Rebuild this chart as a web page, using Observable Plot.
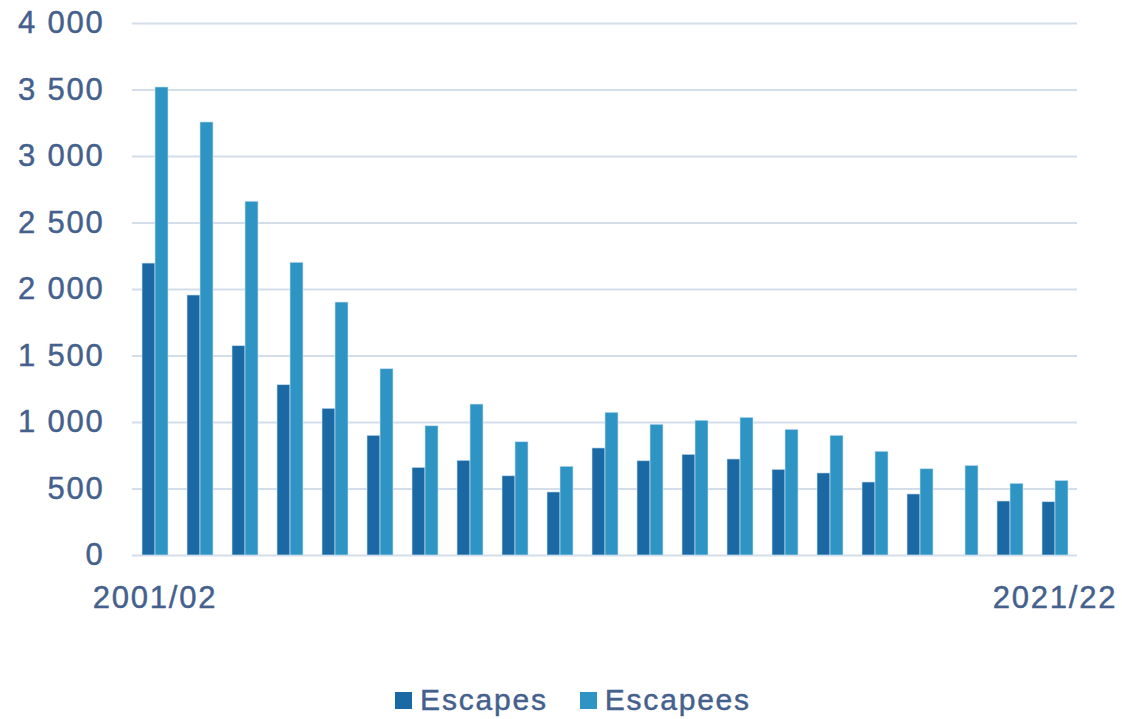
<!DOCTYPE html>
<html>
<head>
<meta charset="utf-8">
<script src="https://cdn.jsdelivr.net/npm/d3@7"></script>
<script src="https://cdn.jsdelivr.net/npm/@observablehq/plot@0.6"></script>
<style>
  html, body { margin: 0; padding: 0; background: #ffffff; }
  #wrap { position: relative; width: 1122px; height: 719px; overflow: hidden; }
  #chart svg text { stroke: #44608c; stroke-width: 0.45px; }
  #legend {
    position: absolute; left: 0; top: 680px; width: 1122px; height: 40px;
    display: flex; justify-content: center; align-items: center; gap: 32px;
    font-family: "Liberation Sans", Arial, sans-serif; font-size: 30px; letter-spacing: 1.8px;
    color: #44608c; -webkit-text-stroke: 0.45px #44608c; padding-left: 24px; box-sizing: border-box;
  }
  .item { display: flex; align-items: center; gap: 8px; }
  .sw { width: 17px; height: 17px; display: inline-block; }
</style>
</head>
<body>
<div id="wrap">
  <div id="chart"></div>
  <div id="legend"></div>
</div>
<script>
const years = ["2001/02","2002/03","2003/04","2004/05","2005/06","2006/07","2007/08","2008/09","2009/10","2010/11","2011/12","2012/13","2013/14","2014/15","2015/16","2016/17","2017/18","2018/19","2019/20","2020/21","2021/22"];
const seriesNames = ["Escapes", "Escapees"];
const escapes  = [2195, 1955, 1574, 1281, 1103, 900, 659, 712, 596, 474, 805, 709, 757, 722, 644, 617, 549, 459, null, 406, 401];
const escapees = [3519, 3256, 2660, 2201, 1902, 1401, 972, 1135, 852, 667, 1073, 983, 1013, 1035, 945, 900, 780, 649, 674, 539, 561];
const yTicks = [0, 500, 1000, 1500, 2000, 2500, 3000, 3500, 4000];
const xTickLabels = ["2001/02", "2021/22"];
const colors = ["#1a69a4", "#2e94c3"];

const data = [];
years.forEach((yr, i) => {
  if (escapes[i] != null) data.push({year: yr, series: "Escapes", value: escapes[i]});
  if (escapees[i] != null) data.push({year: yr, series: "Escapees", value: escapees[i]});
});

const fmt = d => d3.format(",")(d).replace(/,/g, " ");

const chart = Plot.plot({
  width: 1122,
  height: 660,
  marginTop: 23,
  marginBottom: 105,
  marginLeft: 130,
  marginRight: 44,
  style: {fontFamily: "'Liberation Sans', Arial, sans-serif", color: "#44608c", background: "#ffffff", letterSpacing: "1.8px"},
  fx: {domain: years, paddingInner: 0, paddingOuter: 0, label: null},
  x: {domain: seriesNames, paddingInner: 0, paddingOuter: 0.72, axis: null},
  y: {domain: [0, 4000], label: null},
  color: {domain: seriesNames, range: colors},
  marks: [
    Plot.gridY(yTicks, {stroke: "#d4deea", strokeOpacity: 1, strokeWidth: 2}),
    Plot.axisY(yTicks, {tickSize: 0, tickPadding: 28, fontSize: 31, tickFormat: fmt, fill: "#44608c", label: null}),
    Plot.barY(data, {fx: "year", x: "series", y: "value", fill: "series", stroke: "#cfe4f1", strokeWidth: 0.8, strokeOpacity: 0.8}),
    Plot.axisFx({ticks: xTickLabels, anchor: "bottom", tickSize: 0, tickPadding: 30, fontSize: 31, fill: "#44608c", label: null})
  ]
});
document.getElementById("chart").appendChild(chart);

const legend = document.getElementById("legend");
seriesNames.forEach((s, i) => {
  const item = document.createElement("div");
  item.className = "item";
  const sw = document.createElement("span");
  sw.className = "sw";
  sw.style.background = colors[i];
  const t = document.createElement("span");
  t.textContent = s;
  item.appendChild(sw);
  item.appendChild(t);
  legend.appendChild(item);
});
</script>
</body>
</html>
